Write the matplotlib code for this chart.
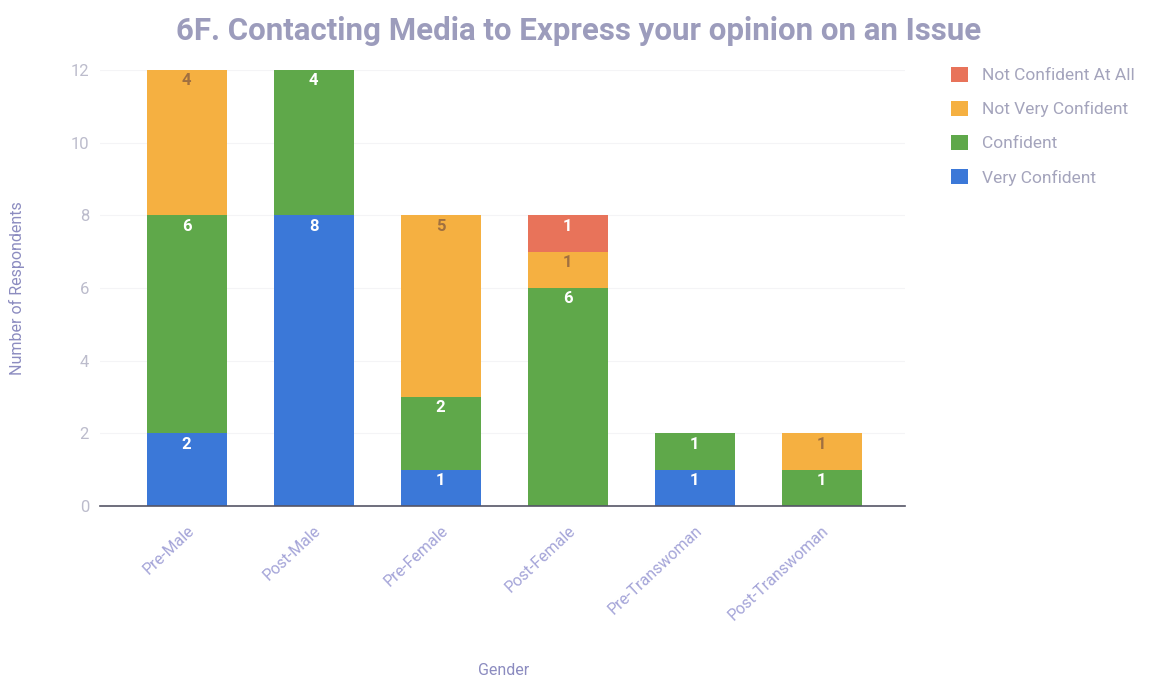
import numpy as np
import matplotlib.pyplot as plt

plt.rcParams['font.family'] = ['Roboto', 'DejaVu Sans']

groups = ['Pre-Male', 'Post-Male', 'Pre-Female', 'Post-Female', 'Pre-Transwoman', 'Post-Transwoman']
levels = ['Very Confident', 'Confident', 'Not Very Confident', 'Not Confident At All']
very_confident = [2, 8, 1, 0, 1, 0]
confident = [6, 4, 2, 6, 1, 1]
not_very_confident = [4, 0, 5, 1, 0, 1]
not_confident_at_all = [0, 0, 0, 1, 0, 0]

colors = ['#3b78d8', '#5fa84a', '#f5b041', '#e8735a']
label_colors = ['white', 'white', '#a07040', 'white']

fig = plt.figure(figsize=(11.52, 6.8), dpi=100)
ax = fig.add_axes([0.087, 0.256, 0.699, 0.641])

x = np.arange(len(groups))
bottom = np.zeros(len(groups))
series = [very_confident, confident, not_very_confident, not_confident_at_all]
handles = []
for vals, name, c, lc in zip(series, levels, colors, label_colors):
    vals = np.array(vals)
    bars = ax.bar(x, vals, 0.63, bottom=bottom, color=c, label=name, zorder=2)
    handles.append(bars)
    # value label just under the top of each segment
    for xi, v, b in zip(x, vals, bottom):
        if v > 0:
            ax.text(xi, b + v - 0.3, str(v), ha='center', va='center',
                    color=lc, fontsize=12, fontweight='bold', zorder=3)
    bottom += vals

ax.set_xlim(-0.68, 5.66)
ax.set_ylim(0, 12)
ax.set_yticks(range(0, 13, 2))
ax.grid(axis='y', color='#f4f4f6', linewidth=0.8, zorder=0)
for s in ['top', 'right', 'left']:
    ax.spines[s].set_visible(False)
ax.spines['bottom'].set_color('#555566')
ax.spines['bottom'].set_linewidth(1.2)
ax.tick_params(axis='both', length=0)
ax.tick_params(axis='y', labelcolor='#bcbccc', labelsize=12, pad=8)
ax.set_xticks(x)
ax.set_xticklabels(groups, rotation=43, ha='right', rotation_mode='anchor',
                   color='#a4a4d8', fontsize=11.5)
ax.tick_params(axis='x', pad=12)

ax.set_ylabel('Number of Respondents', color='#8c8cc0', fontsize=11.5, labelpad=33)
fig.text(0.437, 0.008, 'Gender', color='#8c8cc0', fontsize=11.5, ha='center')
fig.text(0.502, 0.955, '6F. Contacting Media to Express your opinion on an Issue',
         color='#9c9cbc', fontsize=22.5, fontweight='bold', ha='center', va='center')

leg = fig.legend(handles[::-1], levels[::-1], loc='upper left', bbox_to_anchor=(0.812, 0.925),
                 frameon=False, fontsize=12.5, handlelength=1.0, handleheight=1.0,
                 labelspacing=1.0, handletextpad=0.8)
for t in leg.get_texts():
    t.set_color('#a4a4bc')

fig.savefig('out.png', dpi=100)
